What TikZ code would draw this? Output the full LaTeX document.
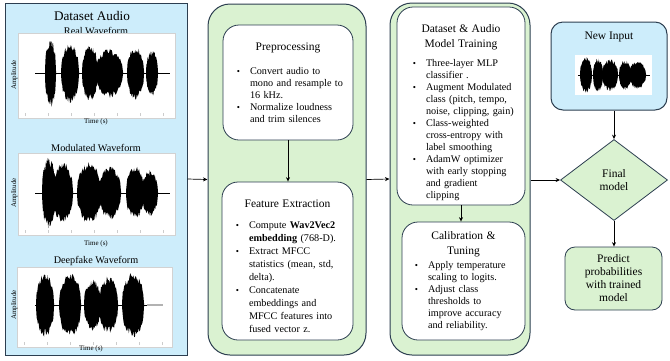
\documentclass[tikz,border=0pt]{standalone}
\usepackage{fontspec}
\setmainfont{Liberation Serif}
\usepackage{enumitem}
\usetikzlibrary{shapes.geometric,arrows.meta}

\definecolor{audioblue}{RGB}{205,237,251}
\definecolor{stagegreen}{RGB}{218,242,209}
\definecolor{edgedark}{RGB}{44,62,80}

\newlist{steps}{itemize}{1}
\setlist[steps]{label={\small\textbullet}, leftmargin=21pt, labelsep=10pt, nosep}

\newcommand{\steptitle}[1]{{\centering\fontsize{11.5}{15}\selectfont #1\par}}

% one burst of a waveform: left, right, centre line, half height
\newcommand{\burst}[4]{%
  \fill plot[domain=#1:#2, samples=30] (\x,{#3-#4*(0.72+0.28*rnd)*(abs(sin(180*(\x-#1)/(#2-#1)))+0.001)^0.4})
    -- plot[domain=#2:#1, samples=30] (\x,{#3+#4*(0.72+0.28*rnd)*(abs(sin(180*(\x-#1)/(#2-#1)))+0.001)^0.4}) -- cycle;}

\tikzset{
  panel/.style={draw=edgedark, line width=1pt, fill=stagegreen, rounded corners=22pt},
  stepbox/.style={draw=edgedark, line width=0.8pt, fill=white, rounded corners=16pt,
    inner xsep=6pt, font=\fontsize{10.2}{12}\selectfont},
  wavepanel/.style={draw=gray!35, fill=white, line width=0.4pt, inner sep=0pt},
  wavehead/.style={font=\fontsize{10.2}{12}\selectfont},
  axislabel/.style={font=\fontsize{7}{8}\selectfont},
  flow/.style={-{Stealth[length=4.5pt,width=4pt]}, line width=0.7pt},
}

\begin{document}
\begin{tikzpicture}[x=1pt, y=-1pt]
  \pgfmathsetseed{7}
  \useasboundingbox (0,0) rectangle (670,360);

  % input column
  \node[draw=edgedark, line width=1pt, fill=audioblue, minimum width=182pt, minimum height=352pt] (audio) at (96,179) {};
  \node[font=\fontsize{13.2}{15}\selectfont] (audiotitle) at (92,16) {Dataset Audio};

  % real waveform
  \node[wavehead] (realhead) at (96,31) {Real Waveform};
  \node[wavepanel, minimum width=157pt, minimum height=85pt] (realwave) at (96.5,75.5) {};
  \foreach \t in {0,...,6} % faint ticks
  \draw[gray!40] ({25+\t*23},116) -- ++(0,-3);
  \draw[line width=0.8pt] (35,73) -- (170,73);
  \foreach \p/\q/\h in {45/56/34, 61/79/30, 82/98/28, 96/123/25, 127/144/27, 146/158/23}
  \burst{\p}{\q}{73}{\h};
  \node[axislabel, rotate=90] (realamp) at (14.5,75) {Amplitude};
  \node[axislabel] (realtime) at (96,122) {Time (s)};

  % modulated waveform
  \node[wavehead] (modhead) at (96,148) {Modulated Waveform};
  \node[wavepanel, minimum width=157pt, minimum height=82pt] (modwave) at (96.5,194) {};
  \foreach \t in {0,...,6}
  \draw[gray!40] ({25+\t*23},233) -- ++(0,-3);
  \draw[line width=0.8pt] (35,193) -- (170,193);
  \foreach \p/\q/\h in {42/56/36, 53/73/31, 77/101/31, 99/121/27, 126/144/27, 142/158/23}
  \burst{\p}{\q}{193}{\h};
  \node[axislabel, rotate=90] (modamp) at (14.5,193) {Amplitude};
  \node[axislabel] (modtime) at (96,244) {Time (s)};

  % deepfake waveform
  \node[wavehead] (fakehead) at (96,261) {Deepfake Waveform};
  \node[wavepanel, minimum width=155pt, minimum height=80pt] (fakewave) at (94.5,307) {};
  \foreach \t in {0,...,6}
  \draw[gray!40] ({24+\t*23},345) -- ++(0,-3);
  \draw[line width=0.8pt] (35,305) -- (147,305);
  \draw[gray!60, line width=1.5pt] (147,305) -- (163,305);
  \foreach \p/\q/\h in {36/54/32, 59/81/33, 84/101/26, 99/118/29, 122/144/33}
  \burst{\p}{\q}{305}{\h};
  \node[axislabel, rotate=90] (fakeamp) at (14.5,305) {Amplitude};
  \node[axislabel] (faketime) at (91,349) {Time (s)};

  % preprocessing and features
  \node[panel, minimum width=158pt, minimum height=351pt] (stageA) at (287,179.5) {};
  \node[stepbox, minimum height=115pt, text width=118pt] (prep) at (288,82.5) {%
    \steptitle{Preprocessing}\vspace{12pt}
    \begin{steps}
      \item Convert audio to\\ mono and resample to\\ 16 kHz.
      \item Normalize loudness\\ and trim silences
    \end{steps}};
  \node[stepbox, minimum height=158pt, text width=119pt, font=\fontsize{10.2}{13}\selectfont] (feat) at (287.5,261) {%
    \par\vspace*{3pt}\steptitle{Feature Extraction}\vspace{8pt}
    \begin{steps}
      \item Compute \textbf{Wav2Vec2}\\ \textbf{embedding} (768-D).
      \item Extract MFCC\\ statistics (mean, std,\\ delta).
      \item Concatenate\\ embeddings and\\ MFCC features into\\ fused vector z.
    \end{steps}};

  % training and calibration
  \node[panel, minimum width=140pt, minimum height=352pt] (stageB) at (460,179) {};
  \node[stepbox, minimum height=198pt, text width=116pt] (train) at (461,106) {%
    \par\vspace*{6pt}\steptitle{Dataset \& Audio\\ Model Training}\vspace{7pt}
    \begin{steps}[leftmargin=23pt]
      \item Three-layer MLP\\ classifier .
      \item Augment Modulated\\ class (pitch, tempo,\\ noise, clipping, gain)
      \item Class-weighted\\ cross-entropy with\\ label smoothing
      \item AdamW optimizer\\ with early stopping\\ and gradient\\ clipping
    \end{steps}};
  \node[stepbox, minimum height=118pt, text width=111pt] (calib) at (463.5,281) {%
    \steptitle{Calibration \&\\ Tuning}\vspace{2pt}
    \begin{steps}[leftmargin=20pt]
      \item Apply temperature\\ scaling to logits.
      \item Adjust class\\ thresholds to\\ improve accuracy\\ and reliability.
    \end{steps}};

  % inference side
  \node[draw=edgedark, line width=1pt, fill=audioblue, rounded corners=12pt, minimum width=116pt, minimum height=88pt] (newin) at (609,66) {};
  \node[font=\fontsize{11.5}{13}\selectfont] (newhead) at (609,37) {New Input};
  \node[wavepanel, draw=none, minimum width=77pt, minimum height=40pt] (newwave) at (613.5,75) {};
  \draw[line width=0.6pt] (578,75) -- (650,75);
  \foreach \p/\q/\h in {580/592/18, 593/603/17, 602/618/16, 619/631/15, 629/646/14}
  \burst{\p}{\q}{75}{\h};

  \node[diamond, draw=edgedark, line width=0.8pt, fill=stagegreen, minimum width=107pt, minimum height=81pt,
    inner sep=0pt, align=center, font=\fontsize{11.5}{13}\selectfont] (final) at (614,180) {Final\\model};
  \node[draw=edgedark, line width=0.8pt, fill=stagegreen, rounded corners=10pt, minimum width=97pt, minimum height=63pt,
    align=center, font=\fontsize{11.5}{13}\selectfont] (predict) at (613.5,278.5) {Predict\\probabilities\\with trained\\model};

  % connectors
  \draw[flow] (audio.east) -- (stageA.west);
  \draw[flow] (prep.south) -- (prep.south |- feat.north);
  \draw[flow] (stageA.east) -- (stageB.west);
  \draw[flow] (train.south) -- (train.south |- calib.north);
  \draw[flow] (final.west -| stageB.east) -- (final.west);
  \draw[flow] (final.north |- newin.south) -- (final.north);
  \draw[flow] (final.south) -- (final.south |- predict.north);
\end{tikzpicture}
\end{document}
